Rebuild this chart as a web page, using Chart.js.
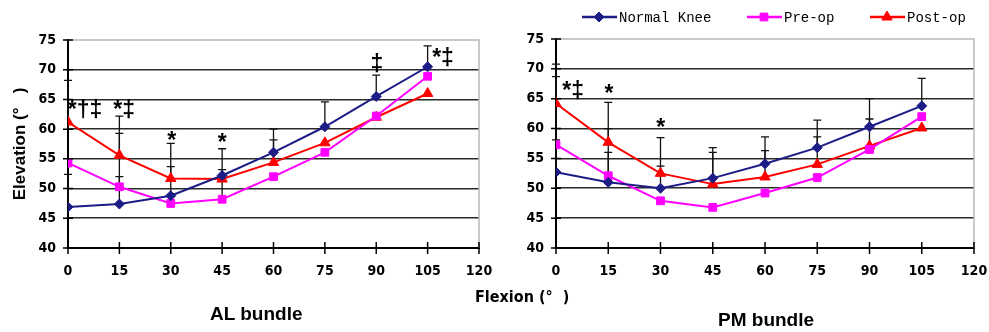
<!DOCTYPE html>
<html>
<head>
<meta charset="utf-8">
<script src="https://cdn.jsdelivr.net/npm/chart.js@4/dist/chart.umd.min.js"></script>
<style>
  body { margin: 0; background: #fff; }
  #wrap { position: relative; width: 989px; height: 332px; overflow: hidden; }
  canvas { position: absolute; top: 0; }
  .lbl { position: absolute; font-family: 'Liberation Sans', Arial, sans-serif; font-weight: bold; color: #000; white-space: nowrap; }
</style>
</head>
<body>
<div id="wrap">
  <canvas id="alChart" width="495" height="332" style="left:0;width:495px;height:332px"></canvas>
  <canvas id="pmChart" width="494" height="332" style="left:495px;width:494px;height:332px"></canvas>
  <div class="lbl" style="left:475px;top:287px;font-size:16px;font-family:'DejaVu Sans Condensed',sans-serif">Flexion (°&nbsp;&nbsp;)</div>
  <div class="lbl" style="left:210px;top:303px;font-size:19px">AL bundle</div>
  <div class="lbl" style="left:718px;top:309px;font-size:19px">PM bundle</div>
</div>
<script>
// flexion angles (x)
const flexion = [0, 15, 30, 45, 60, 75, 90, 105];
const seriesNames = ['Normal Knee', 'Pre-op', 'Post-op'];

// AL bundle elevation (deg)
const alNormal = [46.9, 47.4, 48.8, 52.2, 56.1, 60.4, 65.5, 70.5];
const alPre    = [54.3, 50.3, 47.5, 48.2, 52.0, 56.1, 62.2, 68.9];
const alPost   = [61.2, 55.6, 51.7, 51.6, 54.4, 57.7, 62.0, 66.0];
// upper error bars (0 = none visible)
const alNormalErr = [5.5, 4.6, 4.9, 0, 3.9, 4.2, 3.6, 3.5];
const alPreErr    = [0, 9.0, 0, 5.0, 0, 0, 0, 0];
const alPostErr   = [7.0, 6.6, 5.9, 5.1, 3.8, 0, 0, 0];

// PM bundle elevation (deg)
const pmNormal = [52.7, 51.0, 50.0, 51.7, 54.1, 56.8, 60.3, 63.8];
const pmPre    = [57.3, 52.1, 47.9, 46.8, 49.2, 51.8, 56.5, 62.0];
const pmPost   = [64.2, 57.7, 52.5, 50.7, 51.9, 54.0, 57.1, 60.1];
const pmNormalErr = [5.4, 5.0, 3.7, 5.1, 4.5, 4.6, 4.7, 4.6];
const pmPreErr    = [11.4, 7.9, 0, 0, 0, 0, 0, 0];
const pmPostErr   = [6.6, 6.7, 6.0, 5.3, 4.4, 4.6, 4.5, 0];

// significance marks: [flexion, elevation, text]
const alMarks = [[5.0, 63.8, '*†‡'], [16.4, 63.8, '*‡'], [30.3, 58.6, '*'], [45, 58.3, '*'], [90.2, 71.6, '‡'], [109.5, 72.6, '*‡']];
const pmMarks = [[4.9, 66.8, '*‡'], [15.2, 66.4, '*'], [30.1, 60.6, '*']];

const colors = ['#1c1c86', '#ff00ff', '#ff0000'];
const shapes = ['rectRot', 'rect', 'triangle'];
const radii = [5, 5.5, 6];
const tickFont = { family: "'DejaVu Sans Condensed', sans-serif", size: 14, weight: 'bold' };

function makeSet(i, vals, errs) {
  return {
    label: seriesNames[i],
    data: flexion.map((x, j) => ({ x: x, y: vals[j] })),
    errs: errs,
    showLine: true,
    borderColor: colors[i],
    backgroundColor: colors[i],
    borderWidth: 2,
    pointStyle: shapes[i],
    pointRadius: radii[i],
    pointBorderWidth: 1,
  };
}

const extras = {
  id: 'extras',
  beforeDatasetsDraw(chart) {
    const ctx = chart.ctx, xs = chart.scales.x, ys = chart.scales.y, a = chart.chartArea;
    ctx.save();
    // light frame top/right
    ctx.strokeStyle = '#b8b8b8';
    ctx.lineWidth = 1.5;
    ctx.beginPath();
    ctx.moveTo(a.left, a.top); ctx.lineTo(a.right, a.top); ctx.lineTo(a.right, a.bottom);
    ctx.stroke();
    // error bars
    ctx.strokeStyle = '#111';
    ctx.lineWidth = 1.3;
    chart.data.datasets.forEach(ds => {
      ds.data.forEach((p, j) => {
        const e = ds.errs[j];
        if (!e) return;
        const px = xs.getPixelForValue(p.x);
        const y0 = ys.getPixelForValue(p.y), y1 = ys.getPixelForValue(p.y + e);
        ctx.beginPath();
        ctx.moveTo(px, y0); ctx.lineTo(px, y1);
        ctx.moveTo(px - 4, y1); ctx.lineTo(px + 4, y1);
        ctx.stroke();
      });
    });
    ctx.restore();
  },
  afterDraw(chart) {
    const ctx = chart.ctx, xs = chart.scales.x, ys = chart.scales.y, a = chart.chartArea;
    ctx.save();
    ctx.strokeStyle = '#000';
    ctx.lineWidth = 1.5;
    ctx.beginPath();
    xs.ticks.forEach(t => {
      const px = xs.getPixelForValue(t.value);
      ctx.moveTo(px, a.bottom - 6); ctx.lineTo(px, a.bottom + 6);
    });
    ys.ticks.forEach(t => {
      const py = ys.getPixelForValue(t.value);
      ctx.moveTo(a.left - 5, py); ctx.lineTo(a.left + 5, py);
    });
    ctx.stroke();
    // significance marks
    ctx.fillStyle = '#000';
    ctx.font = "bold 23px 'Liberation Sans', Arial, sans-serif";
    ctx.textBaseline = 'middle';
    ctx.textAlign = 'center';
    chart.options.plugins.extras.marks.forEach(m => {
      ctx.fillText(m[2], xs.getPixelForValue(m[0]), ys.getPixelForValue(m[1]) + 4);
    });
    // legend
    if (chart.options.plugins.extras.legend) {
      const starts = [87, 252, 375];
      ctx.font = "14px 'Liberation Mono', 'DejaVu Sans Mono', monospace";
      ctx.textAlign = 'left';
      chart.data.datasets.forEach((ds, i) => {
        const x0 = starts[i], y = 17;
        ctx.strokeStyle = ds.borderColor;
        ctx.lineWidth = 2.5;
        ctx.beginPath(); ctx.moveTo(x0, y); ctx.lineTo(x0 + 35, y); ctx.stroke();
        ctx.fillStyle = ds.borderColor;
        ctx.lineWidth = 1;
        Chart.helpers.drawPoint(ctx, { pointStyle: ds.pointStyle, radius: ds.pointRadius, rotation: 0, borderWidth: 1 }, x0 + 17, y);
        ctx.fillStyle = '#000';
        ctx.fillText(ds.label, x0 + 37, y + 1);
      });
    }
    ctx.restore();
  }
};

function makeChart(id, sets, marks, yWidth, padRight, padTop, showTitle, legend) {
  return new Chart(document.getElementById(id), {
    type: 'scatter',
    data: { datasets: sets },
    options: {
      responsive: false,
      animation: false,
      layout: { padding: { left: 0, right: padRight, top: padTop, bottom: 0 } },
      plugins: {
        legend: { display: false },
        tooltip: { enabled: false },
        extras: { marks: marks, legend: legend },
      },
      scales: {
        x: {
          type: 'linear', min: 0, max: 120,
          ticks: { stepSize: 15, color: '#000', font: tickFont, padding: 15 },
          grid: { drawOnChartArea: false, drawTicks: false },
          border: { color: '#000', width: 2 },
          afterFit: s => { s.height = 84; s.paddingRight = 0; },
        },
        y: {
          min: 40, max: 75,
          ticks: { stepSize: 5, color: '#000', font: tickFont, padding: 12 },
          grid: {
            color: c => (c.tick && c.tick.value === 75) ? 'rgba(0,0,0,0)' : '#2a2a2a',
            lineWidth: 1.6,
            drawTicks: false,
          },
          border: { color: '#000', width: 2 },
          title: {
            display: showTitle, text: 'Elevation (°   )', color: '#000',
            font: { family: "'Liberation Sans', Arial, sans-serif", size: 17, weight: 'bold' },
            padding: { top: 10, bottom: 0 },
          },
          afterFit: s => { s.width = yWidth; s.paddingTop = 0; s.paddingBottom = 0; },
        },
      },
    },
    plugins: [extras],
  });
}

makeChart('alChart',
  [makeSet(0, alNormal, alNormalErr), makeSet(1, alPre, alPreErr), makeSet(2, alPost, alPostErr)],
  alMarks, 68, 16, 40, true, false);
makeChart('pmChart',
  [makeSet(0, pmNormal, pmNormalErr), makeSet(1, pmPre, pmPreErr), makeSet(2, pmPost, pmPostErr)],
  pmMarks, 61, 15, 39, false, true);
</script>
</body>
</html>
